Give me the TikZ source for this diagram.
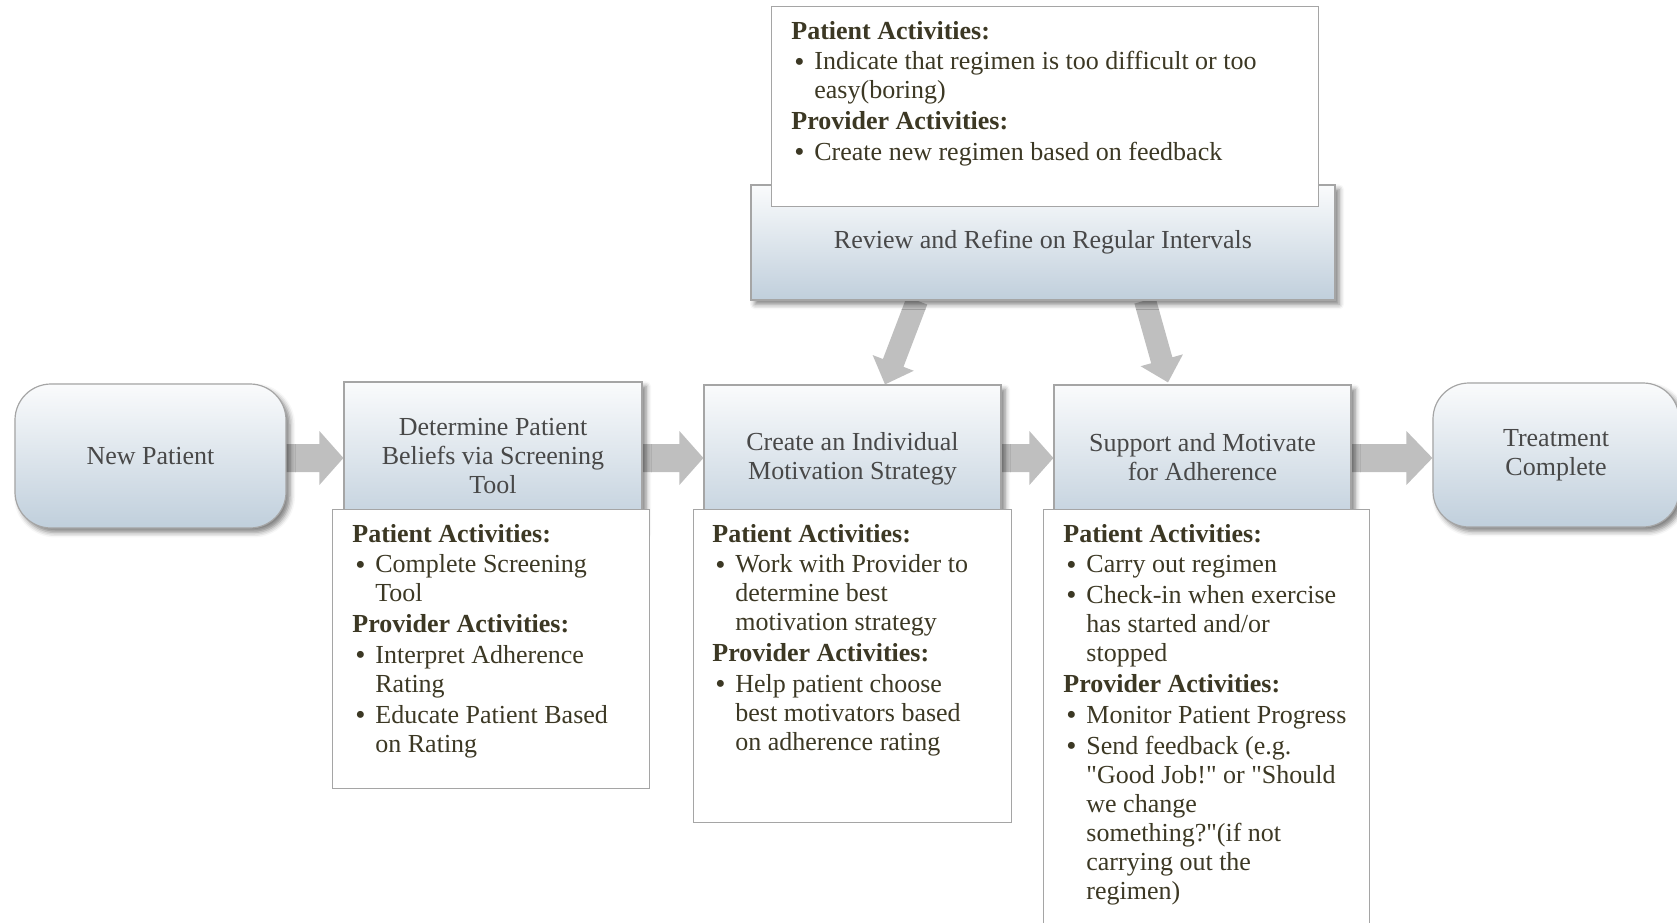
\documentclass[tikz,border=0pt]{standalone}
\usepackage{fontspec}
\setmainfont{Liberation Serif}
\usetikzlibrary{calc,shadows.blur}
\pgfdeclarelayer{bg}
\pgfsetlayers{bg,main}
\definecolor{gtop}{RGB}{250,251,252}
\definecolor{gbot}{RGB}{192,207,220}
\definecolor{bordc}{RGB}{165,165,165}
\definecolor{arrc}{RGB}{191,191,191}
\definecolor{acttxt}{RGB}{60,56,36}
\definecolor{titletxt}{RGB}{72,72,72}
\newcommand\actitem[1]{\par\hangindent=11.5pt\hangafter=1\noindent\makebox[11.5pt][l]{\hspace{1.5pt}\raisebox{-0.6pt}{\fontsize{14.5}{14.5}\selectfont\textbullet}}#1\par}
\newcommand\acthead[1]{\par\noindent\textbf{#1}\par}
\newcommand\actpar[2]{\parbox[t]{#1}{\raggedright\setlength\parskip{0.9pt}\fontsize{13}{14.5}\selectfont #2}}
\newcommand\blockarrow[5]{%
  \coordinate (babase) at ($(#2)!#5!(#1)$);
  \fill[arrowfill] ($(#1)!#3!90:(#2)$) -- ($(babase)!#3!90:(#2)$) -- ($(babase)!#4!90:(#2)$) -- (#2)
    -- ($(babase)!#4!-90:(#2)$) -- ($(babase)!#3!-90:(#2)$) -- ($(#1)!#3!-90:(#2)$) -- cycle;}
\tikzset{
  titlebox/.style={draw=bordc, line width=0.6pt, top color=gtop, bottom color=gbot,
    text=titletxt, align=center, font=\fontsize{13}{14.5}\selectfont, inner sep=0pt,
    blur shadow={shadow xshift=2pt, shadow yshift=-2.2pt, shadow blur radius=2.5pt, shadow opacity=50}},
  actbox/.style={draw=bordc, line width=0.6pt, fill=white, anchor=north west, inner sep=0pt},
  acttext/.style={anchor=base west, inner sep=0pt, text=acttxt},
  arrowfill/.style={fill=arrc},
}
\begin{document}
\begin{tikzpicture}[x=0.5pt,y=-0.5pt]
\useasboundingbox (0,0) rectangle (1677,922);
\clip (0,0) rectangle (1677,922);

% title boxes
\node[titlebox, rounded corners=18pt, minimum width=135.5pt, minimum height=72pt] (np) at (150.5,456) {New Patient};
\node[titlebox, minimum width=149pt, minimum height=74pt] (det) at (493,456) {Determine Patient\\Beliefs via Screening\\Tool};
\node[titlebox, minimum width=148.5pt, minimum height=74pt] (cre) at (852.5,459) {Create an Individual\\Motivation Strategy};
\node[titlebox, minimum width=148.5pt, minimum height=72pt] (sup) at (1202.5,457) {Support and Motivate\\for Adherence};
\node[titlebox, rounded corners=18pt, minimum width=123pt, minimum height=72pt] (tc) at (1556,455) {Treatment\\Complete};
\node[titlebox, minimum width=292pt, minimum height=57.5pt] (rev) at (1043,242.5) {Review and Refine on Regular Intervals};

% activity boxes
\node[actbox, minimum width=158.5pt, minimum height=139.5pt] (detA) at (332,509) {};
\node[actbox, minimum width=159pt, minimum height=156.5pt] (creA) at (693,509) {};
\node[actbox, minimum width=163pt, minimum height=220pt] (supA) at (1043,509) {};
\node[actbox, minimum width=273.5pt, minimum height=100pt] (revA) at (771,6) {};

\node[acttext] (detT) at ($(detA.north west)+(20,33)$) {\actpar{145pt}{%
\acthead{Patient Activities:}
\actitem{Complete Screening\newline Tool}
\acthead{Provider Activities:}
\actitem{Interpret Adherence\newline Rating}
\actitem{Educate Patient Based\newline on Rating}}};

\node[acttext] (creT) at ($(creA.north west)+(19,33)$) {\actpar{145pt}{%
\acthead{Patient Activities:}
\actitem{Work with Provider to\newline determine best\newline motivation strategy}
\acthead{Provider Activities:}
\actitem{Help patient choose\newline best motivators based\newline on adherence rating}}};

\node[acttext] (supT) at ($(supA.north west)+(20,33)$) {\actpar{150pt}{%
\acthead{Patient Activities:}
\actitem{Carry out regimen}
\actitem{Check-in when exercise\newline has started and/or\newline stopped}
\acthead{Provider Activities:}
\actitem{Monitor Patient Progress}
\actitem{Send feedback (e.g.\newline \textquotedbl Good Job!\textquotedbl\ or \textquotedbl Should\newline we change\newline something?\textquotedbl(if not\newline carrying out the\newline regimen)}}};

\node[acttext] (revT) at ($(revA.north west)+(20,33)$) {\actpar{260pt}{%
\acthead{Patient Activities:}
\actitem{Indicate that regimen is too difficult or too\newline easy(boring)}
\acthead{Provider Activities:}
\actitem{Create new regimen based on feedback}}};

% connectors (block arrows) behind the boxes
\begin{pgfonlayer}{bg}
\coordinate (a1s) at ($(np.east)+(-2,2)$);  \coordinate (a1t) at (det.west |- a1s);
\coordinate (a2s) at ($(det.east)+(-2,2)$); \coordinate (a2t) at (cre.west |- a2s);
\coordinate (a3s) at ($(cre.east)+(-2,-1)$); \coordinate (a3t) at (sup.west |- a3s);
\coordinate (a4s) at ($(sup.east)+(-2,1)$); \coordinate (a4t) at (tc.west |- a4s);
\blockarrow{a1s}{a1t}{7pt}{13.5pt}{12pt}
\blockarrow{a2s}{a2t}{7pt}{13.5pt}{12pt}
\blockarrow{a3s}{a3t}{7pt}{13.5pt}{12pt}
\blockarrow{a4s}{a4t}{7pt}{13.5pt}{13pt}
\coordinate (d1s) at ($(rev.south)+(-126,0)$); \coordinate (d1t) at ($(cre.north)+(32.5,0)$);
\coordinate (d2s) at ($(rev.south)+(102,0)$);  \coordinate (d2t) at ($(sup.north)+(-34.5,-2)$);
\blockarrow{d1s}{d1t}{5.5pt}{11pt}{11.5pt}
\blockarrow{d2s}{d2t}{5.5pt}{11pt}{11.5pt}
\end{pgfonlayer}
\end{tikzpicture}
\end{document}
